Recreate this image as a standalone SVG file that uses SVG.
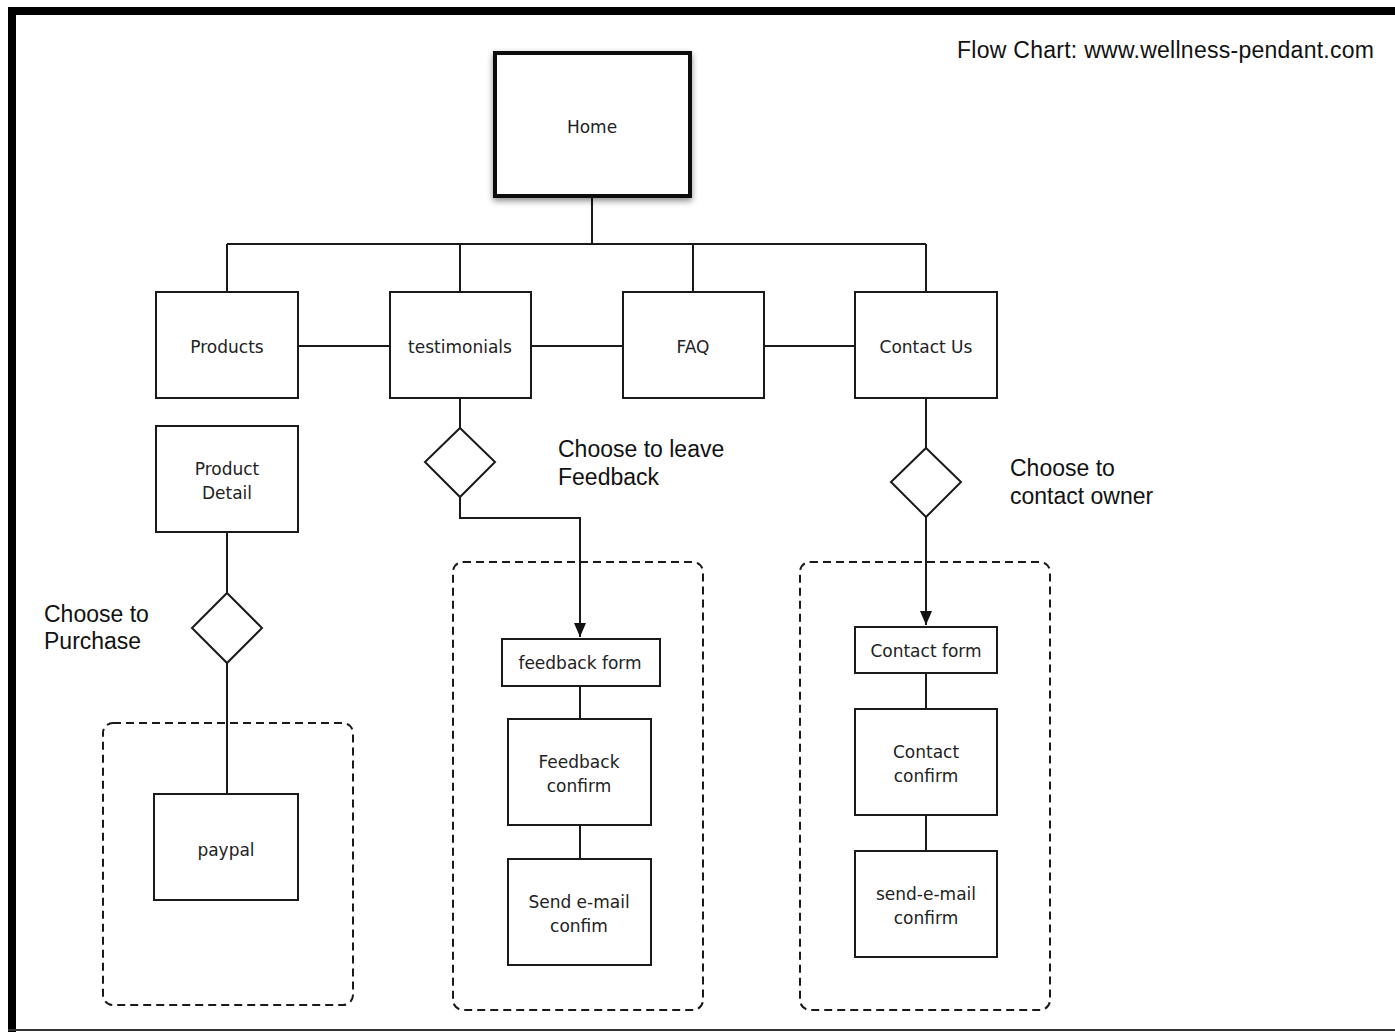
<svg xmlns="http://www.w3.org/2000/svg" width="1395" height="1032" viewBox="0 0 1395 1032">
<defs>
<style>
.box{fill:#fff;stroke:#1a1a1a;stroke-width:2}
.home{fill:#fff;stroke:#111;stroke-width:4}
.dia{fill:#fff;stroke:#1a1a1a;stroke-width:2}
.grp{fill:none;stroke:#1a1a1a;stroke-width:2;stroke-dasharray:8 5}
.ln{fill:none;stroke:#1a1a1a;stroke-width:2}
.nt{font-family:"DejaVu Sans",sans-serif;font-size:17px;fill:#222;text-anchor:middle}
.lb{font-family:"Liberation Sans",Arial,sans-serif;font-size:23px;fill:#111}
</style>
<filter id="sh" x="-20%" y="-20%" width="140%" height="140%">
<feDropShadow dx="0" dy="3" stdDeviation="3" flood-color="#000" flood-opacity="0.45"/>
</filter>
<marker id="ar" viewBox="0 0 14 12" refX="14" refY="6" markerWidth="14" markerHeight="12" markerUnits="userSpaceOnUse" orient="auto">
<path d="M0,0 L14,6 L0,12 Z" fill="#111"/>
</marker>
</defs>
<rect x="0" y="0" width="1395" height="1032" fill="#fff"/>
<rect x="8" y="7" width="1387" height="8" fill="#000"/>
<rect x="8" y="7" width="8" height="1025" fill="#000"/>
<rect x="8" y="1029" width="1387" height="2" fill="#333"/>

<text class="lb" x="957" y="58" font-size="21" textLength="417" lengthAdjust="spacing">Flow Chart: www.wellness-pendant.com</text>

<g id="groups">
<rect class="grp" x="103" y="723" width="250" height="282" rx="10"/>
<rect class="grp" x="453" y="562" width="250" height="448" rx="10"/>
<rect class="grp" x="800" y="562" width="250" height="448" rx="10"/>
</g>

<g id="connectors">
<path class="ln" d="M592,197 V244 M227,244 H926 M227,244 V292 M460,244 V292 M693,244 V292 M926,244 V292"/>
<path class="ln" d="M298,346 H390 M531,346 H623 M764,346 H855"/>
<path class="ln" d="M227,532 V593 M227,663 V794"/>
<path class="ln" d="M460,398 V428"/>
<path class="ln" d="M460,497 V518 H580 V637" marker-end="url(#ar)"/>
<path class="ln" d="M926,398 V448"/>
<path class="ln" d="M926,517 V625" marker-end="url(#ar)"/>
<path class="ln" d="M580,686 V719 M580,825 V859"/>
<path class="ln" d="M926,673 V709 M926,815 V851"/>
</g>

<g id="home"><rect class="home" filter="url(#sh)" x="495" y="53" width="195" height="143"/><text class="nt" x="592" y="133">Home</text></g>
<g id="products"><rect class="box" x="156" y="292" width="142" height="106"/><text class="nt" x="227" y="353">Products</text></g>
<g id="testimonials"><rect class="box" x="390" y="292" width="141" height="106"/><text class="nt" x="460" y="353">testimonials</text></g>
<g id="faq"><rect class="box" x="623" y="292" width="141" height="106"/><text class="nt" x="693" y="353">FAQ</text></g>
<g id="contact-us"><rect class="box" x="855" y="292" width="142" height="106"/><text class="nt" x="926" y="353">Contact Us</text></g>

<g id="product-detail"><rect class="box" x="156" y="426" width="142" height="106"/><text class="nt" x="227" y="475">Product</text><text class="nt" x="227" y="499">Detail</text></g>
<g id="purchase-decision"><path class="dia" d="M227,593 L262,628 L227,663 L192,628 Z"/></g>
<g id="purchase-label"><text class="lb" x="44" y="622">Choose to</text><text class="lb" x="44" y="649">Purchase</text></g>
<g id="paypal"><rect class="box" x="154" y="794" width="144" height="106"/><text class="nt" x="226" y="856">paypal</text></g>

<g id="feedback-decision"><path class="dia" d="M460,428 L495,462 L460,497 L425,462 Z"/></g>
<g id="feedback-label"><text class="lb" x="558" y="457">Choose to leave</text><text class="lb" x="558" y="485">Feedback</text></g>
<g id="feedback-form"><rect class="box" x="502" y="639" width="158" height="47"/><text class="nt" x="580" y="669">feedback form</text></g>
<g id="feedback-confirm"><rect class="box" x="508" y="719" width="143" height="106"/><text class="nt" x="579" y="768">Feedback</text><text class="nt" x="579" y="792">confirm</text></g>
<g id="send-email-confirm"><rect class="box" x="508" y="859" width="143" height="106"/><text class="nt" x="579" y="908">Send e-mail</text><text class="nt" x="579" y="932">confim</text></g>

<g id="contact-decision"><path class="dia" d="M926,448 L961,482 L926,517 L891,482 Z"/></g>
<g id="contact-label"><text class="lb" x="1010" y="476">Choose to</text><text class="lb" x="1010" y="504">contact owner</text></g>
<g id="contact-form"><rect class="box" x="855" y="627" width="142" height="46"/><text class="nt" x="926" y="657">Contact form</text></g>
<g id="contact-confirm"><rect class="box" x="855" y="709" width="142" height="106"/><text class="nt" x="926" y="758">Contact</text><text class="nt" x="926" y="782">confirm</text></g>
<g id="send-email-confirm-2"><rect class="box" x="855" y="851" width="142" height="106"/><text class="nt" x="926" y="900">send-e-mail</text><text class="nt" x="926" y="924">confirm</text></g>
</svg>
